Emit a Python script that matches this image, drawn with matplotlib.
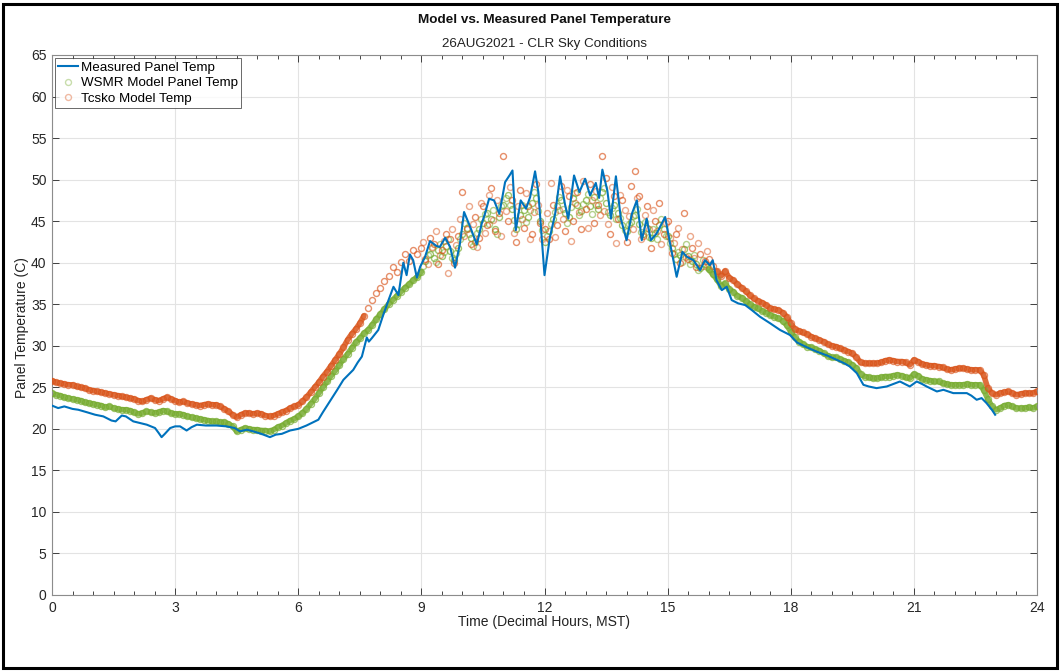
import numpy as np
import matplotlib
matplotlib.use("Agg")
import matplotlib.pyplot as plt
from matplotlib.patches import Rectangle

plt.rcParams['font.family'] = ['Liberation Sans', 'DejaVu Sans']

# ---------------- data ----------------
title = "Model vs. Measured Panel Temperature"
subtitle = "26AUG2021 - CLR Sky Conditions"
xlabel = "Time (Decimal Hours, MST)"
ylabel = "Panel Temperature (C)"
series_names = ["Measured Panel Temp", "WSMR Model Panel Temp", "Tcsko Model Temp"]
x_ticks = [0, 3, 6, 9, 12, 15, 18, 21, 24]
y_ticks = [0, 5, 10, 15, 20, 25, 30, 35, 40, 45, 50, 55, 60, 65]

measured_t = [
    0.0, 0.15, 0.3, 0.5, 0.64, 0.85, 1.05, 1.25, 1.45, 1.55, 1.7, 1.8, 1.98, 2.15, 2.31, 2.51, 2.6, 2.67, 2.75, 2.88,
    3.0, 3.12, 3.28, 3.4, 3.53, 3.75, 4.01, 4.25, 4.45, 4.58, 4.75, 4.9, 5.1, 5.31, 5.45, 5.6, 5.8, 6.0, 6.2, 6.49,
    6.6, 6.77, 6.95, 7.1, 7.34, 7.45, 7.55, 7.67, 7.72, 7.79, 7.95, 8.07, 8.2, 8.32, 8.44, 8.56, 8.64, 8.72, 8.8, 8.89,
    8.97, 9.09, 9.21, 9.37, 9.45, 9.58, 9.7, 9.82, 9.94, 10.04, 10.19, 10.35, 10.47, 10.55, 10.65, 10.77, 10.9, 11.04, 11.16, 11.22,
    11.3, 11.42, 11.55, 11.65, 11.77, 11.85, 12.0, 12.13, 12.26, 12.38, 12.5, 12.58, 12.72, 12.85, 12.99, 13.11, 13.25, 13.33, 13.41, 13.53,
    13.62, 13.74, 13.86, 14.0, 14.13, 14.25, 14.37, 14.49, 14.59, 14.73, 14.94, 15.06, 15.22, 15.36, 15.47, 15.63, 15.79, 15.91, 16.03, 16.1,
    16.19, 16.32, 16.44, 16.56, 16.72, 16.89, 17.05, 17.25, 17.5, 17.74, 17.98, 18.15, 18.4, 18.63, 18.9, 19.12, 19.3, 19.44, 19.61, 19.77,
    19.9, 20.09, 20.34, 20.5, 20.66, 20.9, 21.07, 21.2, 21.31, 21.56, 21.72, 21.96, 22.29, 22.4, 22.53, 22.65, 22.77, 22.9, 22.98]
measured_v = [
    22.8, 22.5, 22.7, 22.4, 22.3, 22.0, 21.7, 21.5, 21.0, 20.9, 21.6, 21.5, 20.9, 20.7, 20.5, 20.1, 19.5, 19.0, 19.4, 20.1,
    20.3, 20.3, 19.8, 20.2, 20.5, 20.4, 20.4, 20.3, 20.1, 19.7, 19.9, 19.7, 19.4, 19.0, 19.3, 19.4, 19.8, 20.0, 20.4, 21.1,
    22.0, 23.3, 24.7, 25.9, 27.1, 28.0, 28.7, 31.0, 30.5, 30.9, 31.9, 33.7, 35.5, 37.1, 36.1, 40.0, 38.5, 41.0, 40.3, 38.2,
    39.5, 40.7, 42.6, 42.0, 41.9, 43.0, 41.9, 39.4, 42.3, 46.1, 44.3, 42.2, 44.7, 45.9, 47.7, 47.5, 45.9, 49.7, 50.6, 51.1,
    43.9, 47.5, 46.5, 47.9, 51.0, 48.5, 38.5, 43.0, 45.9, 50.4, 47.0, 45.3, 50.5, 48.5, 50.1, 48.1, 49.6, 47.8, 51.2, 48.7,
    45.3, 50.4, 45.3, 42.7, 45.9, 47.5, 42.7, 45.3, 42.7, 43.5, 45.5, 42.3, 38.3, 41.3, 40.7, 40.3, 39.1, 40.3, 39.7, 40.3,
    37.9, 36.7, 37.1, 35.5, 35.1, 34.9, 34.3, 33.5, 32.7, 31.9, 31.3, 30.4, 29.8, 29.3, 28.8, 28.3, 27.9, 27.5, 26.7, 25.3,
    25.1, 24.9, 25.1, 25.4, 25.7, 25.1, 25.7, 25.4, 25.1, 24.5, 24.7, 24.3, 24.3, 24.0, 23.5, 23.7, 23.1, 22.3, 21.7]

# model samples every 0.1 h, one row per hour (hour 0 .. 23), then the 24.0 value
wsmr_v = [
    24.3, 24.1, 24.0, 23.8, 23.7, 23.6, 23.5, 23.4, 23.2, 23.1,
    23.0, 22.9, 22.8, 22.6, 22.7, 22.5, 22.4, 22.3, 22.3, 22.2,
    22.0, 21.8, 21.9, 22.1, 22.0, 21.9, 22.0, 22.2, 22.1, 21.9,
    21.8, 21.8, 21.7, 21.5, 21.4, 21.3, 21.2, 21.1, 21.0, 20.9,
    20.9, 20.8, 20.8, 20.6, 20.3, 19.7, 19.9, 20.1, 20.0, 19.9,
    19.9, 19.8, 19.8, 19.7, 19.9, 20.2, 20.4, 20.7, 21.0, 21.2,
    21.5, 21.9, 22.4, 23.0, 23.6, 24.3, 25.0, 25.7, 26.4, 27.0,
    27.7, 28.4, 29.0, 29.7, 30.4, 30.9, 31.5, 31.9, 32.5, 33.2,
    33.8, 34.4, 35.0, 35.5, 36.0, 36.5, 37.0, 37.4, 37.9, 38.3,
    38.9, 40.2, 41.0, 40.6, 41.5, 40.8, 42.0, 41.4, 40.3, 41.8,
    43.5, 44.2, 43.0, 42.5, 44.0, 44.8, 46.0, 45.2, 44.1, 45.5,
    47.0, 48.2, 46.5, 44.0, 45.8, 46.3, 45.5, 47.2, 47.8, 45.0,
    42.5, 43.8, 45.2, 46.8, 47.5, 46.0, 45.5, 47.8, 47.0, 46.2,
    47.5, 46.8, 47.9, 46.5, 48.5, 47.2, 45.8, 46.9, 46.0, 44.5,
    43.8, 44.9, 45.8, 44.6, 43.5, 44.2, 43.0, 43.6, 44.5, 44.0,
    43.2, 41.8, 40.5, 40.9, 41.6, 40.8, 40.2, 39.8, 39.4, 39.9,
    39.2, 38.6, 38.0, 37.2, 37.5, 36.8, 36.5, 36.0, 35.8, 35.4,
    35.0, 34.7, 34.5, 34.2, 34.0, 33.7, 33.5, 33.3, 33.0, 32.5,
    31.7, 31.0, 30.5, 30.2, 29.9, 29.8, 29.6, 29.4, 29.1, 28.8,
    28.6, 28.6, 28.4, 28.2, 28.0, 27.7, 27.3, 26.6, 26.3, 26.2,
    26.1, 26.1, 26.2, 26.3, 26.3, 26.4, 26.5, 26.4, 26.2, 26.1,
    26.6, 26.4, 26.0, 25.9, 25.8, 25.7, 25.7, 25.5, 25.4, 25.3,
    25.3, 25.3, 25.3, 25.4, 25.3, 25.3, 25.3, 24.7, 23.6, 22.7,
    22.3, 22.5, 22.8, 22.9, 22.7, 22.5, 22.5, 22.5, 22.6, 22.5,
    22.7]

tcsko_v = [
    25.8, 25.6, 25.5, 25.4, 25.3, 25.3, 25.1, 25.0, 24.9, 24.7,
    24.6, 24.5, 24.4, 24.3, 24.2, 24.1, 24.0, 23.9, 23.8, 23.7,
    23.6, 23.4, 23.3, 23.5, 23.7, 23.5, 23.4, 23.6, 23.8, 23.6,
    23.4, 23.2, 23.3, 23.1, 23.0, 22.9, 22.8, 22.9, 23.0, 22.9,
    22.9, 22.7, 22.4, 22.1, 21.7, 21.4, 21.7, 21.9, 21.9, 21.8,
    21.9, 21.8, 21.6, 21.5, 21.6, 21.8, 22.0, 22.2, 22.5, 22.7,
    22.9, 23.3, 23.8, 24.4, 25.0, 25.6, 26.3, 26.9, 27.6, 28.3,
    29.0, 29.8, 30.7, 31.4, 32.0, 32.7, 33.6, 34.5, 35.5, 36.4,
    37.0, 37.8, 38.4, 39.5, 38.9, 40.1, 41.0, 40.2, 41.5, 41.0,
    41.8, 40.5, 43.0, 42.2, 39.8, 41.5, 43.5, 42.8, 40.0, 43.2,
    48.5, 44.0, 42.2, 45.5, 43.0, 46.8, 44.5, 49.0, 43.8, 46.0,
    52.8, 45.0, 47.5, 42.5, 48.8, 44.2, 46.8, 43.5, 49.5, 44.8,
    44.0, 42.8, 47.0, 44.5, 49.2, 43.8, 48.0, 45.0, 48.5, 44.0,
    46.5, 49.5, 44.8, 47.0, 52.8, 50.2, 43.5, 48.0, 45.2, 47.5,
    42.5, 49.2, 51.0, 48.0, 43.2, 46.8, 41.8, 45.0, 47.2, 43.5,
    45.0, 41.2, 43.5, 40.0, 46.0, 40.5, 41.8, 39.5, 41.0, 40.2,
    40.5, 39.6, 39.0, 38.4, 39.0, 38.2, 37.9, 37.4, 37.0, 36.6,
    36.1, 35.7, 35.4, 35.2, 34.9, 34.5, 34.4, 34.3, 34.0, 33.5,
    32.7, 32.0, 31.8, 31.6, 31.4, 31.1, 30.9, 30.7, 30.5, 30.2,
    30.0, 29.9, 29.7, 29.5, 29.3, 29.1, 28.6, 28.0, 27.9, 27.9,
    27.9, 27.9, 28.0, 28.2, 28.3, 28.2, 28.1, 28.1, 28.0, 27.7,
    28.3, 28.1, 27.8, 27.7, 27.6, 27.6, 27.5, 27.4, 27.2, 27.1,
    27.2, 27.3, 27.3, 27.2, 27.1, 27.1, 27.1, 26.5, 24.9, 24.3,
    24.1, 24.3, 24.4, 24.5, 24.3, 24.1, 24.2, 24.3, 24.3, 24.3,
    24.5]

# extra midday model samples at the half steps 9.05, 9.15, ... 15.95 h
wsmr_mid_v = [
    39.6, 40.9, 41.8, 40.1, 42.2, 41.3, 42.8, 40.6, 41.2, 42.9,
    44.8, 43.4, 42.0, 43.6, 45.3, 45.9, 44.6, 46.4, 43.5, 46.8,
    47.8, 46.9, 45.1, 44.6, 46.9, 44.9, 46.4, 48.5, 46.2, 43.9,
    43.2, 44.6, 46.1, 47.9, 46.5, 44.8, 46.7, 48.4, 45.8, 47.1,
    48.3, 45.9, 47.0, 47.8, 49.0, 46.1, 46.6, 45.3, 45.4, 43.9,
    44.6, 45.6, 46.5, 43.7, 44.9, 43.1, 44.1, 42.8, 45.2, 43.2,
    42.4, 41.0, 41.3, 40.1, 42.2, 39.9, 40.9, 39.1, 40.3, 39.5]
tcsko_mid_v = [
    42.5, 39.8, 41.9, 43.8, 40.9, 42.6, 38.8, 44.0, 42.1, 45.2,
    43.2, 46.8, 44.6, 41.9, 47.2, 43.6, 48.2, 45.1, 47.6, 43.2,
    46.2, 49.1, 43.6, 46.8, 45.2, 48.4, 42.8, 46.1, 47.0, 42.9,
    46.0, 49.6, 43.1, 46.4, 45.2, 48.8, 42.6, 47.2, 46.1, 49.8,
    44.2, 47.6, 48.6, 45.8, 46.2, 44.6, 49.1, 42.4, 48.2, 46.4,
    45.6, 44.1, 47.8, 42.9, 45.8, 44.0, 46.4, 43.8, 42.2, 44.8,
    43.0, 42.4, 44.2, 41.6, 40.7, 43.2, 40.6, 42.4, 39.6, 41.4]

model_t = np.round(np.arange(len(wsmr_v)) * 0.1, 1)
mid_t = np.round(9.05 + np.arange(len(wsmr_mid_v)) * 0.1, 2)

# ---------------- figure ----------------
W, H = 1061, 671
fig = plt.figure(figsize=(W / 100, H / 100), dpi=100)
fig.patch.set_facecolor('white')
ax_l, ax_r, ax_t, ax_b = 52, 1037, 55, 595
ax = fig.add_axes([ax_l / W, 1 - ax_b / H, (ax_r - ax_l) / W, (ax_b - ax_t) / H])

c_blue = '#0072BD'
c_green = '#77AC30'
c_orange = '#D95319'

wsmr_arr = np.array(wsmr_v)
tcsko_arr = np.array(tcsko_v)
# dense (overlapping-marker) stretches drawn as a thick band
g_band = np.where((model_t > 9.0) & (model_t < 16.0), np.nan, wsmr_arr)
o_band = np.where((model_t > 7.6) & (model_t < 16.2), np.nan, tcsko_arr)
ax.plot(model_t, g_band, color=c_green, lw=4.0, alpha=0.85, zorder=2.5,
        solid_capstyle='round')
ax.plot(model_t, o_band, color=c_orange, lw=4.0, alpha=0.85, zorder=2.6,
        solid_capstyle='round')

mk = dict(linestyle='none', marker='o', markersize=4.3, markerfacecolor='none',
          markeredgewidth=1.0)
ax.plot(model_t, wsmr_v, markeredgecolor=c_green, alpha=0.7, zorder=3,
        label=series_names[1], **mk)
ax.plot(mid_t, wsmr_mid_v, markeredgecolor=c_green, alpha=0.55, zorder=3, **mk)
ax.plot(model_t, tcsko_v, markeredgecolor=c_orange, alpha=0.65, zorder=4,
        label=series_names[2], **mk)
ax.plot(mid_t, tcsko_mid_v, markeredgecolor=c_orange, alpha=0.5, zorder=4, **mk)
ax.plot(measured_t, measured_v, color=c_blue, lw=1.5, zorder=5, label=series_names[0])

ax.set_xlim(0, 24)
ax.set_ylim(0, 65)
ax.set_xticks(x_ticks)
ax.set_yticks(y_ticks)
ax.set_xticks(np.arange(0, 24.01, 0.5), minor=True)
ax.grid(True, which='major', color='#e3e3e3', lw=0.8)
ax.set_axisbelow(True)
ax.tick_params(which='both', direction='in', top=True, right=True, colors='#262626',
               labelsize=10, width=0.6)
ax.tick_params(which='major', length=5, pad=4)
ax.tick_params(which='minor', length=3)
for s in ax.spines.values():
    s.set_color('#8c8c8c')
    s.set_linewidth(0.8)

# legend
h, l = ax.get_legend_handles_labels()
order = [2, 0, 1]
leg = ax.legend([h[i] for i in order], [l[i] for i in order], loc='upper left',
                bbox_to_anchor=(3 / 985, 1 - 3 / 540), borderaxespad=0,
                fontsize=9.6, frameon=True, fancybox=False, handlelength=1.5,
                handletextpad=0.2, borderpad=0.25, labelspacing=0.25)
leg.get_frame().set_edgecolor('#262626')
leg.get_frame().set_linewidth(0.6)
for lh in leg.legend_handles[1:]:
    lh.set_alpha(0.4)

# texts
fig.text(544 / W, 1 - 20 / H, title, ha='center', va='center', fontsize=9.7,
         fontweight='bold', color='#111111')
fig.text(544 / W, 1 - 44 / H, subtitle, ha='center', va='center', fontsize=9.6,
         color='#222222')
fig.text(544 / W, 1 - 622 / H, xlabel, ha='center', va='center', fontsize=10,
         color='#222222')
fig.text(22 / W, 1 - 328 / H, ylabel, ha='center', va='center', fontsize=10,
         rotation=90, color='#222222')

# outer frame
fig.patches.append(Rectangle((3 / W, 3 / H), 1 - 7 / W, 1 - 7 / H, transform=fig.transFigure,
                             fill=False, edgecolor='black', linewidth=2.2))

fig.savefig('out.png', dpi=100)
